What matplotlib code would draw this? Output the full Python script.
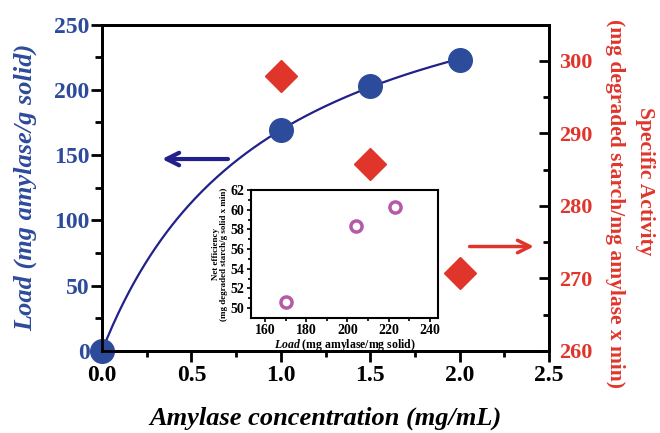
import matplotlib
matplotlib.use('Agg')
import matplotlib.pyplot as plt
import numpy as np

# main data
conc = [0.0, 1.0, 1.5, 2.0]
load = [0, 169, 203, 223]
conc_act = [1.0, 1.5, 2.0]
activity = [297.9, 285.8, 270.8]

# inset data
inset_load = [170, 204, 223]
efficiency = [50.6, 58.3, 60.3]

blue = '#2d4b9b'
navy = '#22208a'
red = '#e0352b'
pink = '#b55aa8'

plt.rcParams['font.family'] = ['Liberation Serif', 'DejaVu Serif']
plt.rcParams['font.weight'] = 'bold'
plt.rcParams['mathtext.fontset'] = 'custom'
plt.rcParams['mathtext.it'] = 'Liberation Serif:italic:bold'

fig = plt.figure(figsize=(6.6, 4.33), dpi=100)
ax = fig.add_axes([0.1545, 0.1894, 0.6775, 0.754])
ax2 = ax.twinx()

# hyperbolic fit (Lineweaver-Burk on the non-zero points)
xs = np.array(conc[1:])
ys = np.array(load[1:], dtype=float)
slope, inter = np.polyfit(1 / xs, 1 / ys, 1)
vmax = 1 / inter
km = slope * vmax
xfit = np.linspace(0, 2.0, 200)
ax.plot(xfit, vmax * xfit / (km + xfit), color=navy, lw=1.6, zorder=3)
ax.plot(conc, load, 'o', color=blue, ms=17, mec=blue, clip_on=False, zorder=4)

ax2.plot(conc_act, activity, 'D', color=red, ms=16, mec=red, zorder=4)

ax.set_xlim(0, 2.5)
ax.set_ylim(0, 250)
ax2.set_ylim(260, 305)
ax.set_xticks([0, 0.5, 1.0, 1.5, 2.0, 2.5])
ax.set_xticklabels(['0.0', '0.5', '1.0', '1.5', '2.0', '2.5'])
ax.set_xticks(np.arange(0, 2.51, 0.25), minor=True)
ax.set_yticks([0, 50, 100, 150, 200, 250])
ax.set_yticks(np.arange(0, 251, 25), minor=True)
ax2.set_yticks([260, 270, 280, 290, 300])
ax2.set_yticks(np.arange(260, 301, 5), minor=True)

for a in (ax, ax2):
    for s in a.spines.values():
        s.set_linewidth(2)
ax.tick_params(axis='x', which='major', direction='out', length=8, width=2,
               labelsize=17, pad=2, top=False)
ax.tick_params(axis='x', which='minor', direction='out', length=4.5, width=2, top=False)
ax.tick_params(axis='y', which='major', direction='out', length=8, width=2,
               labelsize=17, labelcolor=blue, pad=1)
ax.tick_params(axis='y', which='minor', direction='out', length=5, width=2)
ax2.tick_params(axis='y', which='major', direction='in', length=7.5, width=2,
                labelsize=16, labelcolor=red, pad=7)
ax2.tick_params(axis='y', which='minor', direction='in', length=4.5, width=2)
for lab in ax.get_xticklabels() + ax.get_yticklabels() + ax2.get_yticklabels():
    lab.set_fontweight('bold')

ax.set_xlabel('Amylase concentration (mg/mL)', fontsize=19, style='italic',
              fontweight='bold', labelpad=15)
ax.set_ylabel('Load (mg amylase/g solid)', fontsize=19, style='italic',
              fontweight='bold', color=blue, labelpad=12)

# right-hand label, two lines placed as in the original
fig.text(0.977, 0.582, 'Specific Activity', rotation=270, ha='center',
         va='center', fontsize=15.5, fontweight='bold', color=red)
fig.text(0.932, 0.529, '(mg degraded starch/mg amylase x min)', rotation=270,
         ha='center', va='center', fontsize=15.5, fontweight='bold', color=red)

# arrows pointing to the axes
ax.annotate('', xy=(0.32, 147), xytext=(0.72, 147),
            arrowprops=dict(arrowstyle='->,head_length=0.9,head_width=0.45',
                            color=navy, lw=3))
ax.annotate('', xy=(2.43, 80), xytext=(2.04, 80),
            arrowprops=dict(arrowstyle='->,head_length=0.9,head_width=0.45',
                            color=red, lw=2.5))

# inset
ins = fig.add_axes([0.380, 0.2656, 0.2836, 0.2956])
ins.plot(inset_load, efficiency, 'o', mfc='white', mec=pink, mew=2.5, ms=8)
ins.set_xlim(153, 244)
ins.set_ylim(49, 62)
ins.set_xticks([160, 180, 200, 220, 240])
ins.set_xticks(np.arange(160, 241, 10), minor=True)
ins.set_yticks([50, 52, 54, 56, 58, 60, 62])
ins.set_yticks(np.arange(50, 62.1, 1), minor=True)
ins.tick_params(which='both', direction='out', length=3, width=1.2,
                labelsize=10, pad=1.5)
ins.tick_params(which='minor', length=2)
for lab in ins.get_xticklabels() + ins.get_yticklabels():
    lab.set_fontweight('bold')
for s in ins.spines.values():
    s.set_linewidth(1.5)
ins.set_xlabel(r'$\it{Load}$ (mg amylase/mg solid)', fontsize=8.5,
               fontweight='bold', labelpad=0)
ins.set_ylabel('Net efficiency\n(mg degraded starch/g solid x min)',
               fontsize=6.5, fontweight='bold', labelpad=2, linespacing=1.0)

fig.savefig('out.png', dpi=100)
